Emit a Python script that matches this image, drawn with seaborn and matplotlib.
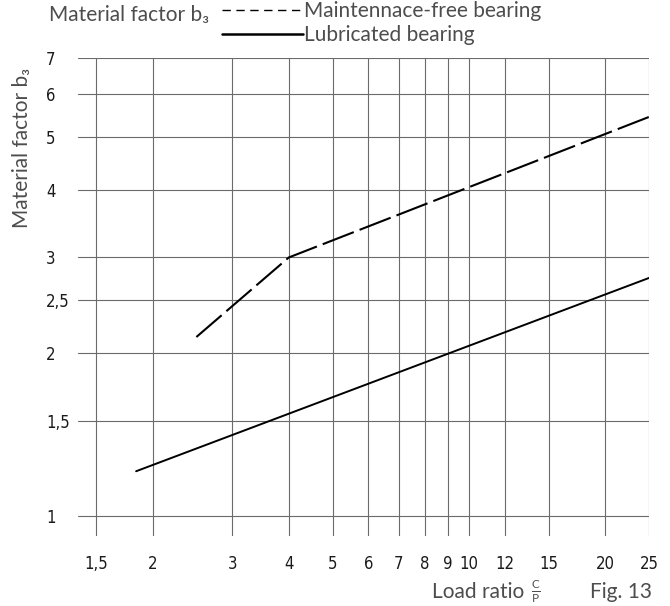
import matplotlib
matplotlib.use("Agg")
import matplotlib.pyplot as plt
import seaborn as sns
from matplotlib.lines import Line2D
from matplotlib.ticker import FixedLocator, NullLocator

# Values
load_ratio_free = [2.5, 4, 25]
b3_free = [2.14, 3.0, 5.45]
load_ratio_lub = [1.84, 25]
b3_lub = [1.21, 2.75]

x_ticks = [1.5, 2, 3, 4, 5, 6, 7, 8, 9, 10, 12, 15, 20, 25]
x_labels = ["1,5", "2", "3", "4", "5", "6", "7", "8", "9", "10", "12", "15", "20", "25"]
y_ticks = [1, 1.5, 2, 2.5, 3, 4, 5, 6, 7]
y_labels = ["1", "1,5", "2", "2,5", "3", "4", "5", "6", "7"]

sns.set_style("white")
text_font = ["Lato", "DejaVu Sans"]
plt.rcParams["font.family"] = text_font
plt.rcParams["mathtext.fontset"] = "custom"
plt.rcParams["mathtext.rm"] = "Lato"
plt.rcParams["mathtext.it"] = "Lato"

W, H = 670, 606
fig = plt.figure(figsize=(W / 100, H / 100), dpi=100)
ax = fig.add_axes([78 / W, 1 - 536 / H, (649 - 78) / W, (536 - 58) / H])

sns.lineplot(x=load_ratio_free, y=b3_free, ax=ax, color="black", lw=1.5,
             linestyle=(0, (16, 3)))
sns.lineplot(x=load_ratio_lub, y=b3_lub, ax=ax, color="black", lw=1.4)

ax.set_xscale("log")
ax.set_yscale("log")
ax.set_xlim(1.369, 25)
ax.set_ylim(0.919, 7)
ax.xaxis.set_major_locator(FixedLocator(x_ticks))
ax.yaxis.set_major_locator(FixedLocator(y_ticks))
ax.xaxis.set_minor_locator(NullLocator())
ax.yaxis.set_minor_locator(NullLocator())
tick_kw = dict(family=["Liberation Sans Narrow", "DejaVu Sans"], fontsize=12,
               color="0.1", fontstretch="condensed")
ax.set_xticklabels(x_labels, **tick_kw)
ax.set_yticklabels(y_labels, ha="left", **tick_kw)
ax.tick_params(length=0)
ax.tick_params(axis="x", pad=14)
ax.tick_params(axis="y", pad=23)
ax.grid(True, color="0.42", lw=0.8)
for s in ax.spines.values():
    s.set_visible(False)
ax.set_xlabel("")
ax.set_ylabel("")

txt = dict(fontsize=15, color="0.3")

# header and legend
fig.text(49 / W, 1 - 15 / H, "Material factor b\u2083", va="center", ha="left", **txt)
handles = [Line2D([], [], color="black", lw=1.0, linestyle=(0, (6, 4))),
           Line2D([], [], color="black", lw=1.8)]
fig.legend(handles=handles, labels=["Maintennace-free bearing", "Lubricated bearing"],
           loc="upper left", bbox_to_anchor=(222 / W, 1 - 1 / H), frameon=False,
           handlelength=3.9, handletextpad=0.05, borderpad=0, borderaxespad=0,
           labelspacing=0.2, prop={"size": 15}, labelcolor="0.3")

fig.text(22 / W, 1 - 148 / H, "Material factor b\u2083", rotation=90,
         va="center", ha="center", **txt)
fig.text(530 / W, 1 - 592 / H, "Load ratio ", va="center", ha="right", **txt)
fig.text(531 / W, 1 - 591 / H, r"$\mathrm{\frac{C}{P}}$", va="center", ha="left",
         fontsize=12, color="0.3")
fig.text(652 / W, 1 - 592 / H, "Fig. 13", va="center", ha="right", **txt)

fig.savefig("out.png", dpi=100)
